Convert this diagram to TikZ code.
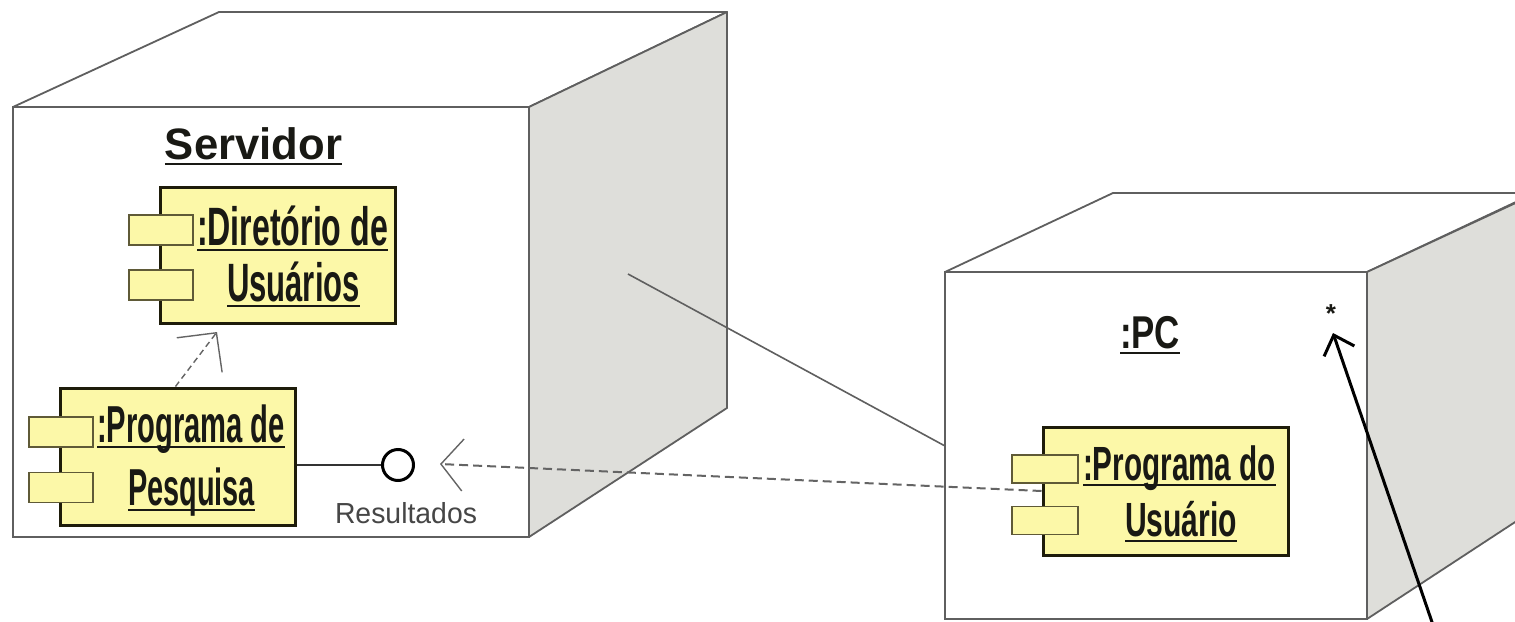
\documentclass[tikz,border=0pt]{standalone}
\usepackage{fontspec}
\setmainfont{Liberation Sans}
\usepackage{graphicx}
\usetikzlibrary{arrows.meta,calc}
\definecolor{compfill}{RGB}{252,248,168}
\definecolor{compdraw}{RGB}{30,28,10}
\definecolor{portdraw}{RGB}{95,90,55}
\definecolor{cubeline}{RGB}{95,95,95}
\definecolor{sideface}{RGB}{222,222,218}
\definecolor{txt}{RGB}{25,25,20}
\definecolor{lbl}{RGB}{70,70,70}
\definecolor{dashc}{RGB}{100,100,100}
\newcommand\myul[1]{\setbox0=\hbox{#1}\rlap{\rule[-6pt]{\wd0}{2.2pt}}\box0}
\newcommand\fitul[2]{\resizebox{#1}{\height}{\myul{#2}}}
\newcommand\fitw[2]{\resizebox{#1}{\height}{#2}}
\begin{document}
\begin{tikzpicture}[x=1pt,y=-1pt,
  cube/.style={draw=cubeline, line width=1.8pt, line join=round},
  face/.style={draw=cubeline, line width=1.8pt, fill=white, rectangle, inner sep=0pt},
  comp/.style={draw=compdraw, fill=compfill, line width=3pt, rectangle, inner sep=0pt},
  port/.style={draw=portdraw, fill=compfill, line width=1.5pt, rectangle, inner sep=0pt, minimum width=64pt, minimum height=30pt},
  ctext/.style={anchor=base, inner sep=0pt, text=txt, font=\bfseries},
  link/.style={draw=cubeline, line width=1.6pt},
  usage/.style={draw=dashc, line width=2pt, dash pattern=on 9pt off 5pt, -{Straight Barb[length=22pt,width=52pt,line width=1.4pt]}},
  dep/.style={draw=dashc, line width=1.4pt, dash pattern=on 6pt off 4pt, -{Straight Barb[length=28pt,width=57pt,line width=1.4pt]}},
  note/.style={draw=black, line width=3pt, -{Straight Barb[length=17pt,width=32pt,line width=3pt]}}
]
\useasboundingbox (0,0) rectangle (1515,621);
\clip (0,0) rectangle (1515,621);
\fill[white] (0,0) rectangle (1515,621);

% Servidor node (cube)
\path[cube, fill=white] (13,107) -- (219,12) -- (727,12) -- (529,107) -- cycle;
\path[cube, fill=sideface] (529,107) -- (727,12) -- (727,408) -- (529,537) -- cycle;
\node[face, minimum width=516pt, minimum height=430pt] (srv) at (271,322) {};

% PC node (cube)
\path[cube, fill=white] (945,272) -- (1113,193) -- (1535,193) -- (1367,272) -- cycle;
\path[cube, fill=sideface] (1367,272) -- (1535,194) -- (1535,509) -- (1367,619) -- cycle;
\node[face, minimum width=422pt, minimum height=347pt] (pc) at (1156,445.5) {};

% link between nodes
\coordinate (linkstart) at (628,274);
\draw[link] (linkstart) -- (pc.west);

% titles
\node[ctext, font=\bfseries\fontsize{44}{44}\selectfont] (srvname) at (253.5,159) {\fitul{177pt}{Servidor}};
\node[ctext, font=\bfseries\fontsize{46}{46}\selectfont] (pcname) at (1150,348) {\fitul{60pt}{:PC}};
\node[anchor=center, inner sep=0pt, text=txt, font=\bfseries\fontsize{26}{26}\selectfont] (star) at (1331,314) {*};

% Diretorio de Usuarios
\node[comp, minimum width=235pt, minimum height=136pt] (dir) at (277.5,255) {};
\node[port] (dirp1) at (161,230) {};
\node[port] (dirp2) at (161,285) {};
\node[ctext, font=\bfseries\fontsize{54}{54}\selectfont] (dirt1) at (292.5,245) {\fitul{191pt}{:Diretório de}};
\node[ctext, font=\bfseries\fontsize{54}{54}\selectfont] (dirt2) at (293.5,301) {\fitul{133pt}{Usuários}};

% Programa de Pesquisa
\node[comp, minimum width=235pt, minimum height=137pt] (pp) at (177.5,456.5) {};
\node[port] (ppp1) at (61,432) {};
\node[port] (ppp2) at (61,487.5) {};
\node[ctext, font=\bfseries\fontsize{52}{52}\selectfont] (ppt1) at (191,442) {\fitul{188pt}{:Programa de}};
\node[ctext, font=\bfseries\fontsize{52}{52}\selectfont] (ppt2) at (191.5,505) {\fitul{127pt}{Pesquisa}};

% Programa do Usuario
\node[comp, minimum width=245pt, minimum height=128pt] (pu) at (1165.5,491) {};
\node[port, minimum width=66pt, minimum height=28pt] (pup1) at (1045,469) {};
\node[port, minimum width=66pt, minimum height=28pt] (pup2) at (1045,520.5) {};
\node[ctext, font=\bfseries\fontsize{48}{48}\selectfont] (put1) at (1179.5,480) {\fitul{193pt}{:Programa do}};
\node[ctext, font=\bfseries\fontsize{48}{48}\selectfont] (put2) at (1181,536) {\fitul{112pt}{Usuário}};

% provided interface Resultados
\node[circle, draw=black, fill=white, line width=3pt, minimum size=31pt, inner sep=0pt] (res) at (398,465) {};
\draw[link, draw=black!80, line width=1.6pt] (res.west) -- (res.west -| pp.east);
\node[anchor=base, inner sep=0pt, text=lbl, font=\fontsize{29}{29}\selectfont] (reslbl) at (406,523) {\fitw{142pt}{Resultados}};

% usage dependency to interface
\coordinate (usetip) at (440,464);
\draw[usage] (pu.west) -- (usetip);

% dependency Programa de Pesquisa -> Diretorio
\coordinate (deptip) at (217,332);
\draw[dep] ($(pp.north west)+(117,0)$) -- (deptip);

% annotation arrow to multiplicity
\coordinate (notestart) at (1433,625);
\coordinate (notetip) at (1333,333);
\draw[note] (notestart) -- (notetip);
\end{tikzpicture}
\end{document}
